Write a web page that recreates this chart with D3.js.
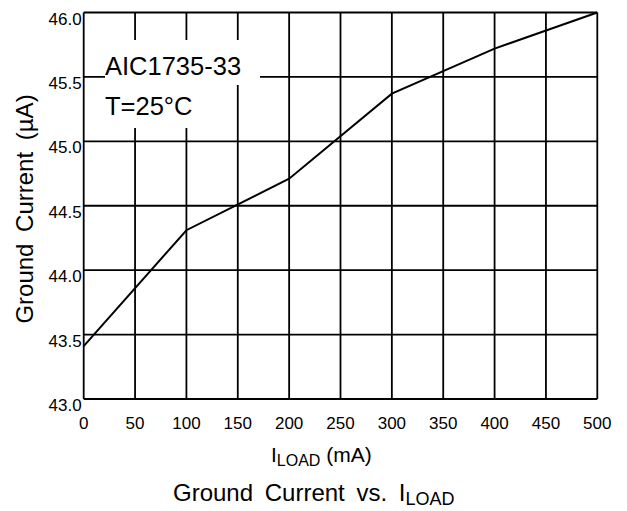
<!DOCTYPE html>
<html>
  <head>
    <meta charset="utf-8">
    <title>Ground Current vs. ILOAD</title>
    <script src="https://d3js.org/d3.v7.min.js"></script>
    <style>
      body { margin: 0; background: #fff; }
      text { font-family: "Liberation Sans", Arial, sans-serif; fill: #000; }
    </style>
  </head>
  <body>
    <svg id="grafico"></svg>
    <script>
      // datos
      var cargas = [0, 100, 200, 300, 400, 500];          // mA
      var corriente = [43.41, 44.31, 44.71, 45.37, 45.72, 46.0]; // µA
      var ticksX = [0, 50, 100, 150, 200, 250, 300, 350, 400, 450, 500];
      var ticksY = [43.0, 43.5, 44.0, 44.5, 45.0, 45.5, 46.0];
      var etiquetas = ["AIC1735-33", "T=25\u00B0C"];

      var ancho = 627, alto = 511;
      var area = {izq: 83.7, der: 597.3, arriba: 12.5, abajo: 399};

      var escalaX = d3.scaleLinear().domain([0, 500]).range([area.izq, area.der]);
      var escalaY = d3.scaleLinear().domain([43, 46]).range([area.abajo, area.arriba]);

      var svg = d3.select("#grafico").attr("width", ancho).attr("height", alto);

      // cuadrícula
      var grilla = svg.append("g").attr("stroke", "#000").attr("stroke-width", 1.8);
      grilla.selectAll("line.v").data(ticksX).enter().append("line")
        .attr("x1", function(d) { return escalaX(d); })
        .attr("x2", function(d) { return escalaX(d); })
        .attr("y1", area.arriba).attr("y2", area.abajo);
      grilla.selectAll("line.h").data(ticksY).enter().append("line")
        .attr("y1", function(d) { return escalaY(d); })
        .attr("y2", function(d) { return escalaY(d); })
        .attr("x1", area.izq).attr("x2", area.der);

      // fondo blanco del rótulo
      svg.append("rect").attr("x", 105).attr("y", 40).attr("width", 155).attr("height", 45).attr("fill", "#fff");
      svg.append("rect").attr("x", 100).attr("y", 84).attr("width", 120).attr("height", 44).attr("fill", "#fff");

      // curva
      var linea = d3.line()
        .x(function(d, i) { return escalaX(cargas[i]); })
        .y(function(d) { return escalaY(d); });
      svg.append("path").datum(corriente)
        .attr("d", linea)
        .attr("fill", "none").attr("stroke", "#000").attr("stroke-width", 2);

      // etiquetas de ejes
      svg.append("g").selectAll("text").data(ticksY).enter().append("text")
        .attr("x", area.izq - 2)
        .attr("y", function(d) { return escalaY(d) + 12; })
        .attr("text-anchor", "end")
        .style("font-size", "17px")
        .text(d3.format(".1f"));
      svg.append("g").selectAll("text").data(ticksX).enter().append("text")
        .attr("x", function(d) { return escalaX(d); })
        .attr("y", 429)
        .attr("text-anchor", "middle")
        .style("font-size", "17px")
        .text(function(d) { return d; });

      // rótulo
      svg.selectAll("text.rot").data(etiquetas).enter().append("text")
        .attr("x", 105)
        .attr("y", function(d, i) { return 75 + i * 40; })
        .style("font-size", "25.5px")
        .text(function(d) { return d; });

      // título eje X
      var tx = svg.append("text").attr("x", 271).attr("y", 462).style("font-size", "21px");
      tx.append("tspan").text("I");
      tx.append("tspan").attr("dy", 4).style("font-size", "16px").text("LOAD");
      tx.append("tspan").attr("dy", -4).text(" (mA)");

      // título eje Y
      svg.append("text")
        .attr("transform", "translate(33,209) rotate(-90)")
        .attr("text-anchor", "middle")
        .style("font-size", "24px")
        .style("word-spacing", "5px")
        .text("Ground Current (\u00B5A)");

      // título inferior
      var tb = svg.append("text").attr("x", 173).attr("y", 501).style("font-size", "24px").style("word-spacing", "5px");
      tb.append("tspan").text("Ground Current vs. I");
      tb.append("tspan").attr("dy", 4).style("font-size", "18px").text("LOAD");
    </script>
  </body>
</html>
